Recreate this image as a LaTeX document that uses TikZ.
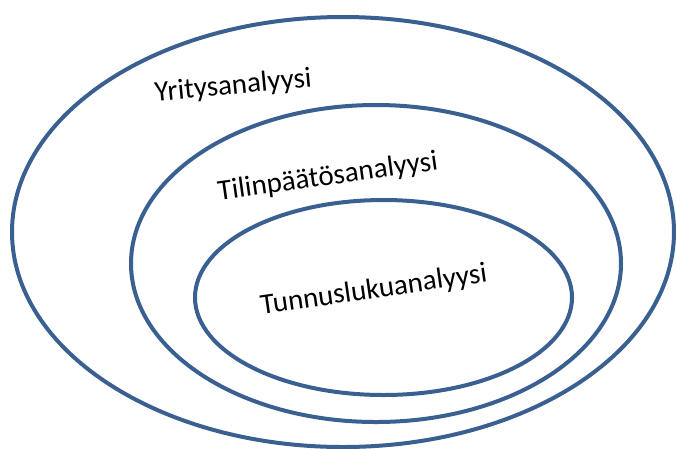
\documentclass[tikz,border=0pt]{standalone}
\usepackage{fontspec}
\setmainfont{Carlito}
\usetikzlibrary{shapes.geometric}
\definecolor{ringblue}{RGB}{58,96,145}
\tikzset{ring/.style={ellipse, draw=ringblue, line width=4pt, inner sep=0pt}}
\tikzset{ringlabel/.style={anchor=base, font=\fontsize{29}{34}\selectfont, inner sep=0pt}}

\begin{document}
\begin{tikzpicture}[x=1pt,y=-1pt]
    \useasboundingbox (0,0) rectangle (676,448);
    % Outer ellipse
                \node[ring, minimum width=662pt, minimum height=430pt] (yritys) at (343,232) {};
                \node[ringlabel, rotate=5.5] (yrityslabel) at (234,94) {Yritysanalyysi};
                
                % Middle ellipse
                \node[ring, minimum width=490pt, minimum height=317pt] (tilinpaatos) at (376,263.5) {};
                \node[ringlabel, rotate=8] (tilinpaatoslabel) at (329,185) {Tilinpäätösanalyysi};
                
                % Inner ellipse
                \node[ring, minimum width=377pt, minimum height=195pt] (tunnusluku) at (383.5,297.5) {};
                \node[ringlabel, rotate=8.2] (tunnuslukulabel) at (375,298) {Tunnuslukuanalyysi};
            \end{tikzpicture}
\end{document}
